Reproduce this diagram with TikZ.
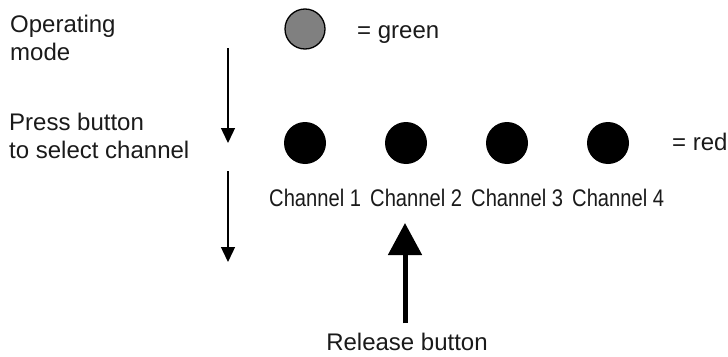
\documentclass[tikz,border=0pt]{standalone}
\usepackage{fontspec}
\setmainfont{Liberation Sans}
\newfontfamily\narrowfont{Liberation Sans}[FakeStretch=0.84]
\usetikzlibrary{arrows.meta}
\definecolor{txt}{HTML}{1A1A1A}
\definecolor{ledgrey}{HTML}{808080}
\begin{document}
\begin{tikzpicture}[x=1pt,y=-1pt,
  lbl/.style={inner sep=0pt, text=txt, font=\fontsize{24}{28}\selectfont},
  chlbl/.style={lbl, font=\narrowfont\fontsize{24}{28}\selectfont},
  ledg/.style={circle, draw=black, line width=1.3pt, fill=ledgrey, minimum size=40pt, inner sep=0pt},
  ledr/.style={circle, fill=black, minimum size=42pt, inner sep=0pt},
  flow/.style={line width=1.4pt, -{Triangle[length=15pt,width=14pt]}},
  release/.style={line width=5pt, -{Triangle[length=32pt,width=33pt]}}
]
\useasboundingbox (0,0) rectangle (728,356);
% left labels
\node[lbl, anchor=base west, align=left] (op) at (10,60) {Operating\\mode};
\node[lbl, anchor=base west, align=left] (press) at (9,158) {Press button\\to select channel};
% green LED
\node[ledg] (g) at (305,29) {};
\node[lbl, anchor=base west] (eqg) at (357,38) {= green};
% red LEDs
\foreach \i/\x in {1/305,2/406,3/507,4/608}{
  \node[ledr] (r\i) at (\x,143) {};
  \node[chlbl, anchor=base west] (c\i) at (\x-36,206) {Channel \i};
}
\node[lbl, anchor=base west] (eqr) at (672,150) {= red};
% flow arrows
\coordinate (a1s) at (228,48);
\coordinate (a1e) at (228,143);
\coordinate (a2s) at (228,171);
\coordinate (a2e) at (228,262);
\draw[flow] (a1s) -- (a1e);
\draw[flow] (a2s) -- (a2e);
% release
\node[lbl, anchor=base] (rel) at (407,350) {Release button};
\coordinate (rtip) at (405,223);
\draw[release] (rel.north -| rtip) ++(0,-9) -- (rtip);
\end{tikzpicture}
\end{document}
